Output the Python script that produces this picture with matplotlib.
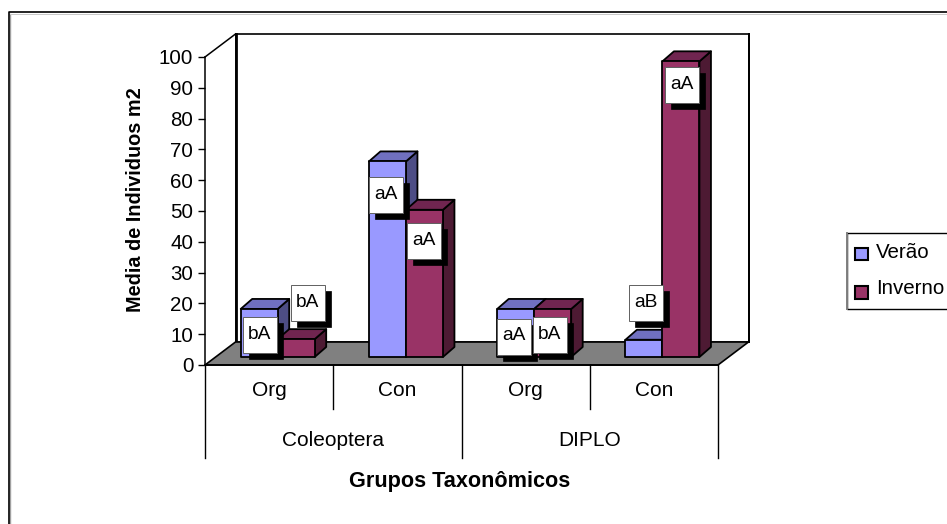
import matplotlib
matplotlib.use("Agg")
import matplotlib.pyplot as plt
from matplotlib.patches import Polygon, Rectangle

plt.rcParams['font.family'] = ['Liberation Sans', 'DejaVu Sans']

W, H = 947, 524
groups = ["Coleoptera", "DIPLO"]
treatments = ["Org", "Con", "Org", "Con"]
series_names = ["Verão", "Inverno"]
verao = [15.6, 63.5, 15.6, 5.6]
inverno = [5.8, 47.8, 15.6, 96.0]
y_ticks = list(range(0, 101, 10))
label_text = ["bA", "bA", "aA", "aA", "aA", "bA", "aB", "aA"]
label_x = [0.425, 0.800, 1.409, 1.705, 2.407, 2.687, 3.436, 3.720]
label_y = [9.6, 20.0, 55.1, 40.1, 9.1, 9.6, 20.0, 90.8]

FACES = {"Verão": ("#9999FF", "#7070C0", "#4D4D85"),
         "Inverno": ("#993366", "#702550", "#4D1A33")}

fig = plt.figure(figsize=(W / 100, H / 100), dpi=100, facecolor="white")

def box(x0, y0, x1, y1):
    return [x0 / W, 1 - y1 / H, (x1 - x0) / W, (y1 - y0) / H]

bg = fig.add_axes([0, 0, 1, 1], zorder=0)
bg.set_xlim(0, W); bg.set_ylim(H, 0); bg.axis("off")
bg.plot([9.5, 9.5], [H + 5, 13.5], color="#A0A0A0", lw=1.0)
bg.plot([9, W + 5], [13.5, 13.5], color="#C8C8C8", lw=0.7)
bg.plot([8.5, 8.5, W + 5], [H + 5, 12, 12], color="black", lw=1.2)

ax = fig.add_axes(box(205, 57, 718, 365), zorder=1)
ax.set_xlim(0, 4); ax.set_ylim(0, 100)
ax.patch.set_visible(False)
for s in ["top", "right", "bottom"]:
    ax.spines[s].set_visible(False)
ax.spines["left"].set_linewidth(1.1)
ax.set_xticks([])
ax.set_yticks(y_ticks)
ax.tick_params(axis="y", length=5, width=1.0, labelsize=14.8, pad=3.4, colors="black")

DX = 30.5 / 128.25      # wall depth in x units
DY = 23 / 3.08          # wall depth in y units
dx = 11.5 / 128.25      # bar depth
dy = 10 / 3.08
BW = 37.0 / 128.25
START = 35.7 / 128.25
BASE = 8 / 3.08
LW = 1.3

# walls and floor
ax.add_patch(Polygon([(DX, DY), (4 + DX, DY), (4 + DX, 100 + DY), (DX, 100 + DY)],
                     fc="white", ec="black", lw=1.2, clip_on=False, zorder=1))
ax.plot([DX, DX], [DY, 100 + DY], color="black", lw=2.0, clip_on=False, zorder=2)
ax.plot([0, DX], [100, 100 + DY], color="black", lw=1.1, clip_on=False, zorder=2)
ax.plot([4 + DX, 4 + DX], [DY, 100 + DY], color="black", lw=1.4, clip_on=False, zorder=2)
ax.add_patch(Polygon([(0, 0), (4, 0), (4 + DX, DY), (DX, DY)],
                     fc="#808080", ec="black", lw=1.2, clip_on=False, zorder=3))

def bar3d(x, v, name, z):
    front, top, side = FACES[name]
    y0 = BASE
    y1 = BASE + v
    kw = dict(ec="black", lw=LW, clip_on=False, zorder=z, joinstyle="round")
    ax.add_patch(Polygon([(x + BW, y0), (x + BW + dx, y0 + dy), (x + BW + dx, y1 + dy), (x + BW, y1)], fc=side, **kw))
    ax.add_patch(Polygon([(x, y1), (x + BW, y1), (x + BW + dx, y1 + dy), (x + dx, y1 + dy)], fc=top, **kw))
    ax.add_patch(Polygon([(x, y0), (x + BW, y0), (x + BW, y1), (x, y1)], fc=front, **kw))

for i in range(4):
    bar3d(i + START, verao[i], "Verão", 4 + i * 2)
    bar3d(i + START + BW, inverno[i], "Inverno", 5 + i * 2)

# data labels with black shadow
PX, PY = 1 / 128.25, 1 / 3.08
for t, x, y in zip(label_text, label_x, label_y):
    w, h = 34 * PX, 36 * PY
    ax.add_patch(Rectangle((x - w / 2 + 6 * PX, y - h / 2 - 6 * PY), w, h, fc="black", ec="black", lw=0.5, clip_on=False, zorder=20))
    ax.add_patch(Rectangle((x - w / 2, y - h / 2), w, h, fc="white", ec="#606060", lw=0.7, clip_on=False, zorder=21))
    ax.text(x, y + 1.0 * PY, t, ha="center", va="center", fontsize=13.8, color="black", zorder=22, clip_on=False)

# category axis with multilevel labels
def vline(x, y0_px, y1_px):
    ax.plot([x, x], [-(y0_px) * PY, -(y1_px) * PY], color="black", lw=1.0, clip_on=False, zorder=3)
ax.plot([0, 4], [0, 0], color="black", lw=1.3, clip_on=False, zorder=4)
for x in [0, 2, 4]:
    vline(x, 0, 93)
for x in [1, 3]:
    vline(x, 0, 44)
for i, t in enumerate(treatments):
    ax.text(i + 0.5, -26 * PY, t, ha="center", va="center", fontsize=15.0, zorder=5)
for i, t in enumerate(groups):
    ax.text(2 * i + 1, -75 * PY, t, ha="center", va="center", fontsize=15.0, zorder=5)

fig.text(460 / W, 1 - 481 / H, "Grupos Taxonômicos", ha="center", va="center",
         fontsize=15.6, fontweight="bold")
fig.text(135 / W, 1 - 200 / H, "Media de Individuos m2", rotation=90, ha="center", va="center",
         fontsize=14.3, fontweight="bold")

# legend
leg = fig.add_axes([0, 0, 1, 1], zorder=5)
leg.set_xlim(0, W); leg.set_ylim(H, 0); leg.axis("off")
leg.add_patch(Rectangle((847, 233), 105, 76, fc="white", ec="black", lw=1.0, clip_on=True))
leg.plot([847, 847], [233, 309], color="#808080", lw=1.4)
for name, yy, ty in zip(series_names, [253.5, 292], [252, 289]):
    leg.add_patch(Rectangle((854.5, yy - 6), 13, 12.5, fc=FACES[name][0], ec="black", lw=1.5))
    leg.text(876, ty, name, ha="left", va="center", fontsize=14.8)

fig.savefig("out.png", dpi=100)
